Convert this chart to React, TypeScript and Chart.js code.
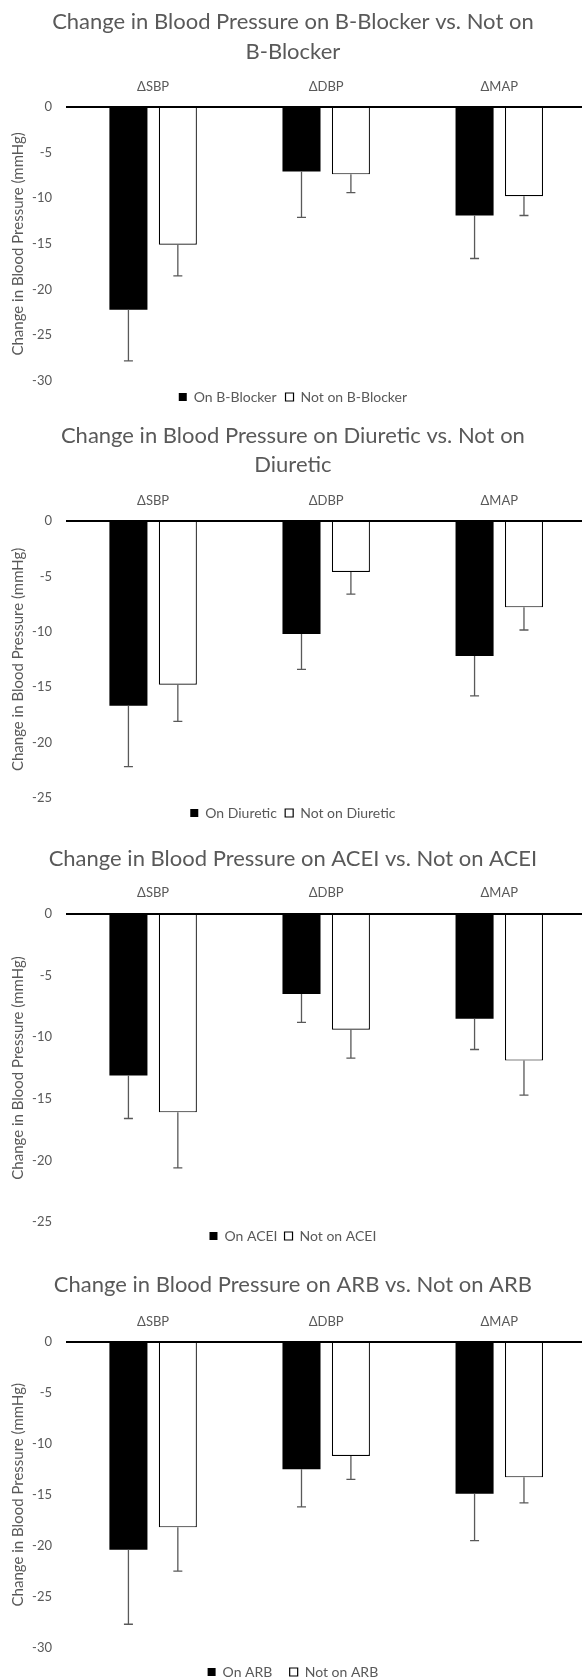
import React, { useEffect, useRef } from "react";
import { Chart, registerables } from "chart.js";

Chart.register(...registerables);

// ---- data ----
const categories = ["ΔSBP", "ΔDBP", "ΔMAP"];
const yAxisTitle = "Change in Blood Pressure (mmHg)";

const bBlockerTitle = ["Change in Blood Pressure on B-Blocker vs. Not on", "B-Blocker"];
const bBlockerLabels = ["On B-Blocker", "Not on B-Blocker"];
const bBlockerOn = [-22.2, -7.1, -11.9];
const bBlockerOnSD = [5.6, 5.0, 4.7];
const bBlockerNot = [-15.1, -7.4, -9.8];
const bBlockerNotSD = [3.4, 2.0, 2.1];

const diureticTitle = ["Change in Blood Pressure on Diuretic vs. Not on", "Diuretic"];
const diureticLabels = ["On Diuretic", "Not on Diuretic"];
const diureticOn = [-16.7, -10.2, -12.2];
const diureticOnSD = [5.5, 3.2, 3.6];
const diureticNot = [-14.8, -4.6, -7.8];
const diureticNotSD = [3.3, 2.0, 2.05];

const aceiTitle = ["Change in Blood Pressure on ACEI vs. Not on ACEI"];
const aceiLabels = ["On ACEI", "Not on ACEI"];
const aceiOn = [-13.1, -6.5, -8.5];
const aceiOnSD = [3.5, 2.3, 2.5];
const aceiNot = [-16.1, -9.4, -11.9];
const aceiNotSD = [4.5, 2.3, 2.8];

const arbTitle = ["Change in Blood Pressure on ARB vs. Not on ARB"];
const arbLabels = ["On ARB", "Not on ARB"];
const arbOn = [-20.4, -12.5, -14.9];
const arbOnSD = [7.3, 3.7, 4.6];
const arbNot = [-18.2, -11.2, -13.3];
const arbNotSD = [4.3, 2.3, 2.5];

// ---- style / layout ----
const FONT = "Lato";
const TEXT = "#595959";
const CANVAS_W = 588;
const TITLE_SIZE = 22;
const TITLE_LH = 29.5;
const TICK_SIZE = 13;
const LEGEND_SIZE = 14;

const panels = [
  { title: bBlockerTitle, labels: bBlockerLabels, on: bBlockerOn, onSD: bBlockerOnSD, not: bBlockerNot, notSD: bBlockerNotSD, min: -30,
    top: 0, height: 414, title1: 22, cat: 86.7, plotTop: 106.7, plotBottom: 381 },
  { title: diureticTitle, labels: diureticLabels, on: diureticOn, onSD: diureticOnSD, not: diureticNot, notSD: diureticNotSD, min: -25,
    top: 413, height: 417, title1: 22.5, cat: 87.7, plotTop: 108, plotBottom: 384.7 },
  { title: aceiTitle, labels: aceiLabels, on: aceiOn, onSD: aceiOnSD, not: aceiNot, notSD: aceiNotSD, min: -25,
    top: 830, height: 423, title1: 28.5, cat: 63.3, plotTop: 84, plotBottom: 392 },
  { title: arbTitle, labels: arbLabels, on: arbOn, onSD: arbOnSD, not: arbNot, notSD: arbNotSD, min: -30,
    top: 1250, height: 439, title1: 35, cat: 71.7, plotTop: 91.7, plotBottom: 397.7 },
];

const errorBarPlugin = {
  id: "errorBars",
  afterDatasetsDraw(chart: any) {
    const { ctx } = chart;
    const yScale = chart.scales.y;
    ctx.save();
    ctx.strokeStyle = "#595959";
    ctx.lineWidth = 1.3;
    chart.data.datasets.forEach((ds: any, i: number) => {
      const meta = chart.getDatasetMeta(i);
      meta.data.forEach((bar: any, j: number) => {
        const v = ds.data[j];
        const e = ds.errors[j];
        const x = bar.x;
        const y0 = yScale.getPixelForValue(v);
        const y1 = yScale.getPixelForValue(v - e);
        ctx.beginPath();
        ctx.moveTo(x, y0);
        ctx.lineTo(x, y1);
        ctx.moveTo(x - 4.5, y1);
        ctx.lineTo(x + 4.5, y1);
        ctx.stroke();
      });
    });
    ctx.restore();
  },
};

function Panel({ p }: { p: any }) {
  const ref = useRef<HTMLCanvasElement | null>(null);
  useEffect(() => {
    if (!ref.current) return;
    const titleTop = p.title1 - TITLE_LH / 2;
    const titleBottom = titleTop + p.title.length * TITLE_LH;
    const xHeight = p.plotTop - titleBottom;
    const xPad = p.plotTop - p.cat - (TICK_SIZE * 1.2) / 2;
    const legendCenter = p.height - 17;
    const legendPad = legendCenter - LEGEND_SIZE / 2 - p.plotBottom;
    const chart = new Chart(ref.current, {
      type: "bar",
      data: {
        labels: categories,
        datasets: [
          {
            label: p.labels[0],
            data: p.on,
            errors: p.onSD,
            backgroundColor: "#000000",
            borderColor: "#000000",
            borderWidth: 0,
            categoryPercentage: 0.571,
            barPercentage: 0.77,
          } as any,
          {
            label: p.labels[1],
            data: p.not,
            errors: p.notSD,
            backgroundColor: "#ffffff",
            borderColor: "#000000",
            borderWidth: 1.2,
            categoryPercentage: 0.571,
            barPercentage: 0.77,
          } as any,
        ],
      },
      options: {
        responsive: false,
        animation: false,
        devicePixelRatio: 1,
        layout: { padding: { left: 0, right: 2.2, top: 0, bottom: 0 } },
        plugins: {
          title: {
            display: true,
            text: p.title,
            color: TEXT,
            font: { family: FONT, size: TITLE_SIZE, weight: "normal", lineHeight: TITLE_LH / TITLE_SIZE },
            padding: { top: titleTop, bottom: 0 },
          },
          legend: {
            position: "bottom",
            labels: {
              boxWidth: 8,
              boxHeight: 8,
              color: TEXT,
              font: { family: FONT, size: LEGEND_SIZE },
              padding: legendPad,
            },
          },
          tooltip: { enabled: false },
        },
        scales: {
          x: {
            position: "top",
            grid: { display: false, drawTicks: false },
            border: { display: true, color: "#000000", width: 2, z: 1 },
            ticks: { color: TEXT, font: { family: FONT, size: TICK_SIZE }, padding: xPad },
            afterFit: (s: any) => {
              s.height = xHeight;
            },
          },
          y: {
            min: p.min,
            max: 0,
            grid: { display: false, drawTicks: false },
            border: { display: false },
            ticks: { stepSize: 5, color: TEXT, font: { family: FONT, size: TICK_SIZE }, padding: 14.6 },
            title: {
              display: true,
              text: yAxisTitle,
              color: TEXT,
              font: { family: FONT, size: 15 },
              padding: { top: 8.8, bottom: 0 },
            },
            afterFit: (s: any) => {
              s.width = 66.6;
            },
          },
        },
      } as any,
      plugins: [errorBarPlugin],
    });
    return () => chart.destroy();
  }, []);
  return (
    <canvas
      ref={ref}
      width={CANVAS_W}
      height={p.height}
      style={{ position: "absolute", left: 0, top: p.top, width: CANVAS_W, height: p.height }}
    />
  );
}

export default function App() {
  return (
    <div
      style={{
        position: "absolute",
        left: 0,
        top: 0,
        width: 582,
        height: 1678,
        overflow: "hidden",
        background: "#ffffff",
      }}
    >
      {panels.map((p, i) => (
        <Panel key={i} p={p} />
      ))}
    </div>
  );
}
